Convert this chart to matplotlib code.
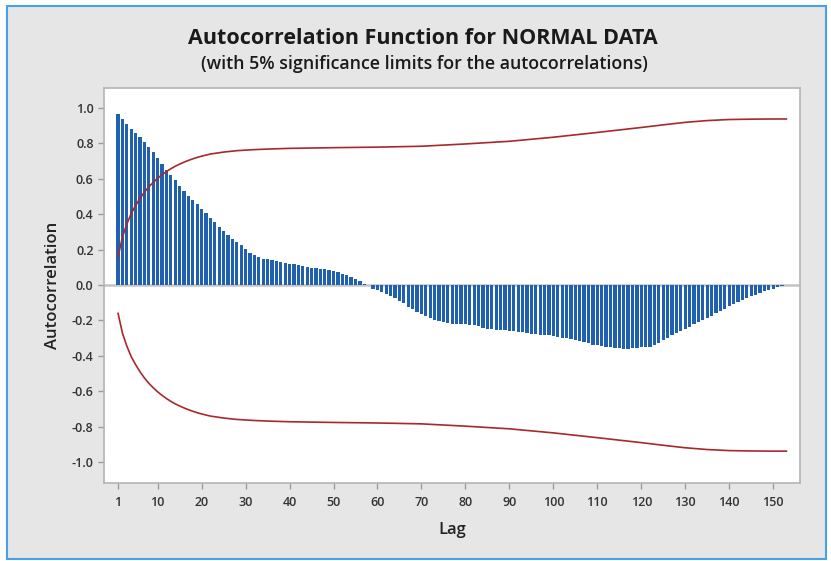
import matplotlib
matplotlib.use("Agg")
import matplotlib.pyplot as plt
from matplotlib.patches import Rectangle

# autocorrelation at lags 1..152
acf = [
    0.964, 0.936, 0.910, 0.883, 0.861, 0.838, 0.810, 0.780, 0.751, 0.716,
    0.682, 0.650, 0.623, 0.593, 0.559, 0.533, 0.503, 0.480, 0.455, 0.430,
    0.405, 0.377, 0.354, 0.330, 0.305, 0.282, 0.260, 0.243, 0.226, 0.203,
    0.183, 0.168, 0.156, 0.149, 0.145, 0.141, 0.136, 0.131, 0.126, 0.119,
    0.117, 0.113, 0.107, 0.104, 0.098, 0.094, 0.090, 0.088, 0.083, 0.079,
    0.072, 0.064, 0.055, 0.045, 0.034, 0.023, 0.008, 0.002, -0.020, -0.030,
    -0.040, -0.050, -0.062, -0.075, -0.089, -0.103, -0.122, -0.137, -0.153, -0.164,
    -0.175, -0.186, -0.198, -0.205, -0.211, -0.215, -0.219, -0.220, -0.222, -0.222,
    -0.224, -0.226, -0.232, -0.241, -0.249, -0.250, -0.252, -0.254, -0.256, -0.258,
    -0.260, -0.263, -0.267, -0.273, -0.277, -0.279, -0.280, -0.281, -0.283, -0.290,
    -0.293, -0.297, -0.301, -0.306, -0.311, -0.316, -0.322, -0.330, -0.337, -0.341,
    -0.344, -0.348, -0.351, -0.354, -0.358, -0.360, -0.359, -0.357, -0.355, -0.352,
    -0.350, -0.348, -0.340, -0.330, -0.311, -0.298, -0.283, -0.270, -0.260, -0.249,
    -0.236, -0.222, -0.208, -0.200, -0.184, -0.172, -0.160, -0.147, -0.134, -0.120,
    -0.107, -0.094, -0.083, -0.073, -0.063, -0.054, -0.045, -0.036, -0.027, -0.020,
    -0.012, -0.006,
]
lags = list(range(1, len(acf) + 1))

# 5% significance limit (upper; lower is the mirror)
limit_lags = [1, 2, 3, 4, 5, 6, 7, 8, 9, 10, 11, 12, 13, 14, 15, 16, 17, 18, 19,
              20, 22, 25, 28, 32, 36, 40, 50, 60, 70, 80, 90, 100, 110, 120, 125,
              130, 135, 140, 145, 150, 153]
limit_vals = [0.160, 0.272, 0.345, 0.405, 0.450, 0.490, 0.525, 0.555, 0.580, 0.603,
              0.623, 0.641, 0.657, 0.671, 0.683, 0.694, 0.704, 0.713, 0.721,
              0.728, 0.740, 0.751, 0.759, 0.765, 0.769, 0.772, 0.776, 0.779, 0.784,
              0.797, 0.812, 0.835, 0.862, 0.890, 0.905, 0.919, 0.929, 0.935, 0.937,
              0.938, 0.938]

xticks = [1, 10, 20, 30, 40, 50, 60, 70, 80, 90, 100, 110, 120, 130, 140, 150]
yticks = [-1.0, -0.8, -0.6, -0.4, -0.2, 0.0, 0.2, 0.4, 0.6, 0.8, 1.0]

plt.rcParams['font.family'] = ['Open Sans', 'DejaVu Sans']

fig = plt.figure(figsize=(8.31, 5.61), dpi=100, facecolor='white')
# grey panel with thin blue frame, kept behind the axes
fig.patches.append(Rectangle((7 / 831, 2 / 561), 819 / 831, 553 / 561,
                             transform=fig.transFigure, facecolor='#e6e6e6',
                             edgecolor='#4aa0e6', linewidth=1.5, zorder=-10))

ax = fig.add_axes([104 / 831, 1 - 483 / 561, 696 / 831, 395 / 561])
ax.set_zorder(1)
ax.set_facecolor('white')

ax.axhline(0, color='#c4c4c4', linewidth=1.8, zorder=1)
ax.bar(lags, acf, width=0.74, color='#1f60b0', edgecolor='none', zorder=2)
ax.plot(limit_lags, limit_vals, color='#a8282c', linewidth=1.2, zorder=3)
ax.plot(limit_lags, [-v for v in limit_vals], color='#a8282c', linewidth=1.2, zorder=3)

ax.set_xlim(-2.2, 156.1)
ax.set_ylim(-1.118, 1.113)
ax.set_xticks(xticks)
ax.set_yticks(yticks)
ax.set_yticklabels([f'{v:.1f}' for v in yticks])

for s in ax.spines.values():
    s.set_color('#b4b4b4')
    s.set_linewidth(1.2)
ax.tick_params(axis='both', colors='#9a9a9a', length=4, width=1, labelsize=9,
               labelcolor='#333333')
ax.tick_params(axis='x', pad=5)
for lbl in ax.get_xticklabels() + ax.get_yticklabels():
    lbl.set_fontweight('semibold')

ax.set_xlabel('Lag', fontsize=12, fontweight='semibold', color='#222222', labelpad=10)
ax.set_ylabel('Autocorrelation', fontsize=12, fontweight='semibold', color='#222222',
              labelpad=8)

fig.text(423 / 831, 1 - 38 / 561, 'Autocorrelation Function for NORMAL DATA',
         ha='center', va='center', fontsize=15.5, fontweight='bold', color='#1a1a1a')
fig.text(424 / 831, 1 - 64 / 561,
         '(with 5% significance limits for the autocorrelations)',
         ha='center', va='center', fontsize=12.8, fontweight='semibold', color='#1a1a1a')

fig.savefig('out.png', dpi=100, facecolor=fig.get_facecolor())
